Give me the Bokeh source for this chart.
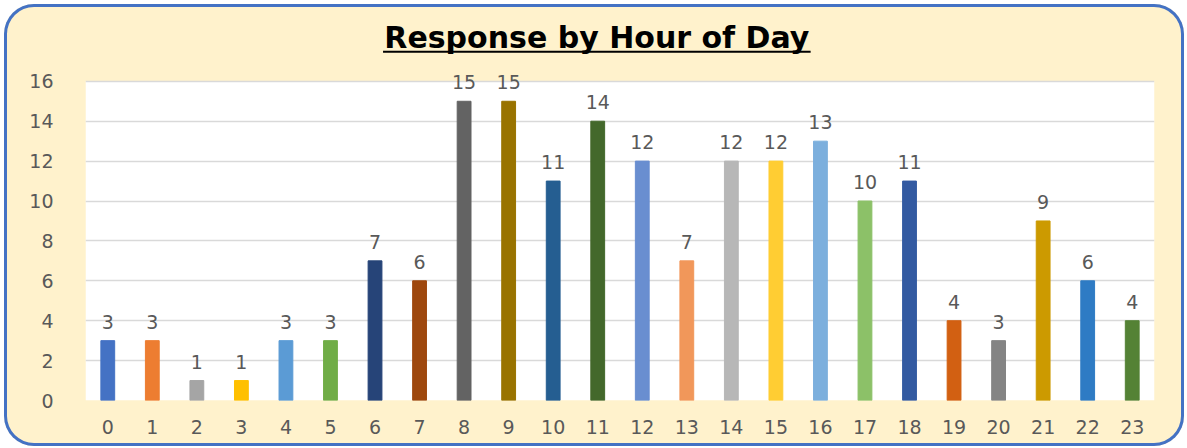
from bokeh.plotting import figure
from bokeh.models import ColumnDataSource, FixedTicker, Range1d
from bokeh.core.properties import value
from bokeh.embed import file_html
from bokeh.resources import INLINE

hours = list(range(24))
counts = [3, 3, 1, 1, 3, 3, 7, 6, 15, 15, 11, 14, 12, 7, 12, 12, 13, 10, 11, 4, 3, 9, 6, 4]
colors = ["#4472C4", "#ED7D31", "#A5A5A5", "#FFC000", "#5B9BD5", "#70AD47",
          "#264478", "#9E480E", "#636363", "#997300", "#255E91", "#43682B",
          "#698ED0", "#F1975A", "#B7B7B7", "#FFCD33", "#7CAFDD", "#8CC168",
          "#335AA1", "#D26012", "#848484", "#CC9A00", "#2E7BC4", "#548235"]
y_ticks = [0, 2, 4, 6, 8, 10, 12, 14, 16]
y_max = 16
title_text = "Response by Hour of Day"

src = ColumnDataSource(dict(x=hours, top=counts, color=colors,
                            label=[str(c) for c in counts]))

W, H = 1180, 442
p = figure(width=W, height=H, output_backend="svg", toolbar_location=None,
           x_range=Range1d(-0.5, 23.5), y_range=Range1d(0, 19.5),
           min_border_left=81, min_border_right=30, min_border_top=7,
           min_border_bottom=46)
p.styles = {"border-radius": "30px", "background-color": "#FFF2CC",
            "box-shadow": "inset 0 0 0 3px #4472C4", "margin": "4px"}
p.border_fill_alpha = 0
p.background_fill_alpha = 0
p.outline_line_color = None

# white plot area (0..16)
p.quad(left=[-0.5], right=[23.5], bottom=[0], top=[y_max],
       fill_color="white", line_color=None, level="image")

p.vbar(x="x", top="top", width=0.31, color="color", source=src)
p.text(x="x", y="top", text="label", source=src, text_align="center",
       text_baseline="bottom", y_offset=-12, text_color="#595959",
       text_font=value("DejaVu Sans"), text_font_size="19px")

p.xaxis.ticker = FixedTicker(ticks=hours)
p.yaxis.ticker = FixedTicker(ticks=y_ticks)
for ax in (p.xaxis[0], p.yaxis[0]):
    ax.axis_line_color = None
    ax.major_tick_line_color = None
    ax.minor_tick_line_color = None
    ax.major_label_text_color = "#595959"
    ax.major_label_text_font = "DejaVu Sans"
    ax.major_label_text_font_size = "19px"
p.xaxis.major_label_standoff = 13
p.yaxis.major_label_standoff = 26
p.xgrid.grid_line_color = None
p.ygrid.grid_line_color = "#D9D9D9"
p.ygrid.grid_line_width = 1.5

# title with underline
tx = 10.98
p.text(x=[tx], y=[17.55], text=[title_text], text_align="center",
       text_baseline="alphabetic", y_offset=-13, text_font=value("DejaVu Sans"),
       text_font_style="bold", text_font_size="30px", text_color="black")
p.segment(x0=[tx - 4.8], x1=[tx + 4.8], y0=[17.48], y1=[17.48],
          line_color="black", line_width=2)

open("out.html", "w").write(file_html(p, INLINE))
